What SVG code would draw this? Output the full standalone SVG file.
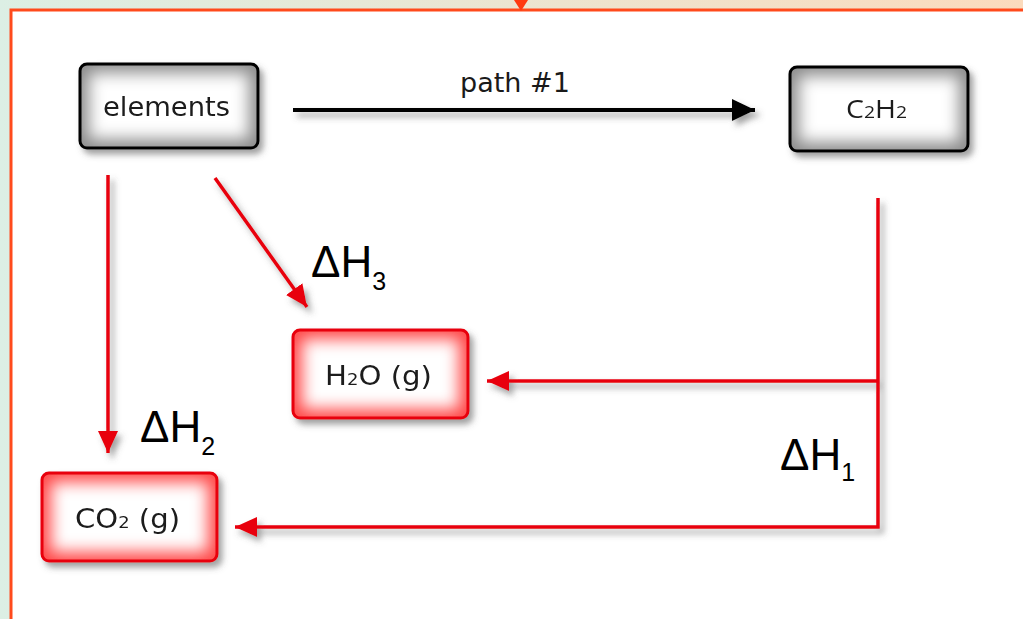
<svg xmlns="http://www.w3.org/2000/svg" width="1023" height="619" viewBox="0 0 1023 619">
<style>
.box{font-family:"DejaVu Sans","Verdana",sans-serif;font-size:26px;fill:#1a1a1a}
.dh{font-family:"Liberation Sans",Arial,sans-serif;font-size:44px;fill:#000}
.sub{font-size:25px}
.blk{stroke:#000;stroke-width:4;fill:none}
.red{stroke:#e8000a;stroke-width:3.5;fill:none}
</style>
<defs>
<linearGradient id="bg" x1="0" y1="0" x2="1" y2="0">
<stop offset="0" stop-color="#dcefe4"/><stop offset="1" stop-color="#fbdbbd"/>
</linearGradient>
<filter id="shadow" x="-20%" y="-20%" width="150%" height="160%">
<feGaussianBlur in="SourceAlpha" stdDeviation="3"/>
<feOffset dx="4" dy="5" result="o"/>
<feFlood flood-color="#555" flood-opacity="0.55"/>
<feComposite in2="o" operator="in"/>
<feMerge><feMergeNode/><feMergeNode in="SourceGraphic"/></feMerge>
</filter>
<filter id="glow" x="-50%" y="-50%" width="200%" height="200%"><feGaussianBlur stdDeviation="8"/></filter>
<clipPath id="c1"><rect x="80" y="64" width="178" height="84" rx="7"/></clipPath>
<clipPath id="c2"><rect x="790" y="67" width="178" height="84" rx="7"/></clipPath>
<clipPath id="c3"><rect x="293" y="330" width="175" height="88" rx="7"/></clipPath>
<clipPath id="c4"><rect x="42" y="473" width="175" height="88" rx="7"/></clipPath>
<marker id="ab" markerUnits="userSpaceOnUse" markerWidth="24" markerHeight="24" refX="23" refY="11" orient="auto">
<path d="M0,0 L23,11 L0,22 z" fill="#000"/></marker>
<marker id="ar" markerUnits="userSpaceOnUse" markerWidth="24" markerHeight="24" refX="22" refY="10" orient="auto">
<path d="M0,0 L22,10 L0,20 z" fill="#e8000a"/></marker>
</defs>
<rect width="1023" height="619" fill="url(#bg)"/>
<rect x="11" y="10" width="1030" height="630" fill="#fff" stroke="#ff4a1c" stroke-width="3"/>
<path d="M514,0 L528,0 L521,11 z" fill="#ff3a10"/>

<g id="connectors" filter="url(#shadow)">
<path class="blk" d="M293,110 L755,110" marker-end="url(#ab)"/>
<path class="red" d="M108,175 L108,453" marker-end="url(#ar)"/>
<path class="red" d="M215,178 L307,307" marker-end="url(#ar)"/>
<path class="red" d="M878,198 L878,527 L235,527" marker-end="url(#ar)"/>
<path class="red" d="M878,381 L487,381" marker-end="url(#ar)"/>
</g>
<text class="box" x="460" y="92" textLength="110" lengthAdjust="spacingAndGlyphs">path #1</text>
<text class="dh" x="311" y="277">ΔH<tspan class="sub" dy="13">3</tspan></text>
<text class="dh" x="140" y="442">ΔH<tspan class="sub" dy="13">2</tspan></text>
<text class="dh" x="780" y="470">ΔH<tspan class="sub" dy="11">1</tspan></text>

<g id="elements" filter="url(#shadow)">
<rect x="80" y="64" width="178" height="84" rx="7" fill="#8c8c8c"/>
<rect x="89" y="73" width="160" height="66" fill="#fff" filter="url(#glow)" clip-path="url(#c1)"/>
<rect x="80" y="64" width="178" height="84" rx="7" fill="none" stroke="#000" stroke-width="3"/>
<text class="box" x="103" y="116" textLength="127" lengthAdjust="spacingAndGlyphs">elements</text>
</g>
<g id="c2h2" filter="url(#shadow)">
<rect x="790" y="67" width="178" height="84" rx="7" fill="#8c8c8c"/>
<rect x="799" y="76" width="160" height="66" fill="#fff" filter="url(#glow)" clip-path="url(#c2)"/>
<rect x="790" y="67" width="178" height="84" rx="7" fill="none" stroke="#000" stroke-width="3"/>
<text x="846" y="118" font-family="'Open Sans','Liberation Sans',sans-serif" font-size="25" fill="#1a1a1a" textLength="61" lengthAdjust="spacingAndGlyphs">C<tspan font-size="17">2</tspan>H<tspan font-size="17">2</tspan></text>
</g>
<g id="h2o" filter="url(#shadow)">
<rect x="293" y="330" width="175" height="88" rx="7" fill="#ff4848"/>
<rect x="302" y="339" width="157" height="70" fill="#fff" filter="url(#glow)" clip-path="url(#c3)"/>
<rect x="293" y="330" width="175" height="88" rx="7" fill="none" stroke="#e8000a" stroke-width="3"/>
<text class="box" x="325" y="385" textLength="107" lengthAdjust="spacingAndGlyphs">H<tspan font-size="16">2</tspan>O (g)</text>
</g>
<g id="co2" filter="url(#shadow)">
<rect x="42" y="473" width="175" height="88" rx="7" fill="#ff4848"/>
<rect x="51" y="482" width="157" height="70" fill="#fff" filter="url(#glow)" clip-path="url(#c4)"/>
<rect x="42" y="473" width="175" height="88" rx="7" fill="none" stroke="#e8000a" stroke-width="3"/>
<text class="box" x="75" y="528" textLength="105" lengthAdjust="spacingAndGlyphs">CO<tspan font-size="16">2</tspan> (g)</text>
</g>
</svg>
